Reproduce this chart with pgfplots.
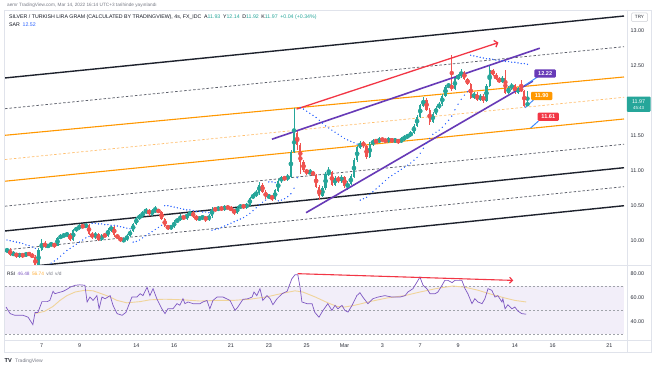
\documentclass[border=0pt]{standalone}
\usepackage{pgfplots}
\pgfplotsset{compat=1.18}
\usepackage{pgfplotstable}
\usepackage{fontspec}
\setmainfont{Liberation Sans}
\usetikzlibrary{arrows.meta}
\definecolor{upc}{HTML}{26A69A}
\definecolor{dnc}{HTML}{EF5350}
\definecolor{chblk}{HTML}{1E222D}
\definecolor{chgray}{HTML}{5D606B}
\definecolor{orng}{HTML}{FF9800}
\definecolor{orngl}{HTML}{FFC070}
\definecolor{purp}{HTML}{673AB7}
\definecolor{redd}{HTML}{F23645}
\definecolor{sarc}{HTML}{2962FF}
\definecolor{rsic}{HTML}{7E57C2}
\definecolor{rsima}{HTML}{F0D49A}
\definecolor{rsibg}{HTML}{F2EEF9}
\definecolor{frame}{HTML}{E0E3EB}
\definecolor{axtext}{HTML}{2A2E39}
\definecolor{tailc}{HTML}{3D8BFD}
\definecolor{hdr}{HTML}{131722}
\definecolor{gtext}{HTML}{787B86}

\pgfplotstableread{
b o h l c
-11 9.85 9.90 9.83 9.87
-10 9.87 9.89 9.78 9.80
-9 9.80 9.85 9.78 9.82
-8 9.82 9.83 9.76 9.78
-7 9.78 9.83 9.76 9.81
-6 9.81 9.82 9.76 9.78
-5 9.78 9.84 9.77 9.82
-4 9.82 9.84 9.78 9.80
-3 9.80 9.82 9.75 9.77
-2 9.77 9.79 9.62 9.64
-1 9.64 9.90 9.62 9.87
0 9.87 10.02 9.85 9.97
1 9.97 9.99 9.89 9.91
2 9.91 9.96 9.89 9.94
3 9.94 9.98 9.92 9.95
4 9.95 9.97 9.90 9.93
5 9.93 10.06 9.92 10.04
6 10.04 10.09 10.02 10.07
7 10.07 10.10 10.05 10.08
8 10.08 10.12 10.06 10.10
9 10.10 10.11 9.99 10.01
10 10.01 10.17 10.00 10.15
11 10.15 10.20 10.13 10.18
12 10.18 10.24 10.16 10.21
13 10.21 10.23 10.18 10.20
14 10.20 10.25 10.18 10.22
15 10.22 10.24 10.08 10.10
16 10.10 10.12 10.03 10.05
17 10.05 10.12 10.03 10.10
18 10.10 10.11 9.99 10.01
19 10.01 10.10 9.99 10.08
20 10.08 10.10 10.05 10.07
21 10.07 10.18 10.06 10.15
22 10.15 10.21 10.13 10.20
23 10.20 10.21 10.06 10.08
24 10.08 10.10 10.02 10.04
25 10.04 10.06 9.98 10.00
26 10.00 10.04 9.98 10.01
27 10.01 10.09 10.00 10.07
28 10.07 10.16 10.05 10.14
29 10.14 10.26 10.12 10.24
30 10.24 10.34 10.22 10.32
31 10.32 10.38 10.30 10.35
32 10.35 10.43 10.33 10.40
33 10.40 10.47 10.38 10.44
34 10.44 10.46 10.36 10.38
35 10.38 10.45 10.36 10.42
36 10.42 10.50 10.40 10.44
37 10.44 10.46 10.39 10.41
38 10.41 10.43 10.29 10.31
39 10.31 10.33 10.19 10.21
40 10.21 10.23 10.15 10.18
41 10.18 10.23 10.16 10.20
42 10.20 10.29 10.18 10.27
43 10.27 10.33 10.25 10.30
44 10.30 10.38 10.28 10.35
45 10.35 10.37 10.29 10.32
46 10.32 10.40 10.30 10.37
47 10.37 10.43 10.35 10.40
48 10.40 10.42 10.33 10.35
49 10.35 10.37 10.28 10.31
50 10.31 10.35 10.29 10.32
51 10.32 10.37 10.30 10.34
52 10.34 10.36 10.27 10.30
53 10.30 10.38 10.28 10.35
54 10.35 10.48 10.33 10.45
55 10.45 10.48 10.42 10.44
56 10.44 10.50 10.42 10.47
57 10.47 10.49 10.43 10.45
58 10.45 10.51 10.43 10.48
59 10.48 10.50 10.45 10.47
60 10.47 10.49 10.42 10.44
61 10.44 10.46 10.37 10.40
62 10.40 10.50 10.38 10.47
63 10.47 10.53 10.45 10.50
64 10.50 10.52 10.46 10.48
65 10.48 10.54 10.46 10.51
66 10.51 10.63 10.49 10.61
67 10.61 10.68 10.59 10.65
68 10.65 10.72 10.63 10.68
69 10.68 10.84 10.66 10.80
70 10.80 10.82 10.68 10.70
71 10.70 10.72 10.60 10.62
72 10.62 10.67 10.60 10.64
73 10.64 10.66 10.57 10.60
74 10.60 10.74 10.58 10.72
75 10.72 10.88 10.70 10.85
76 10.85 10.93 10.83 10.90
77 10.90 10.93 10.86 10.88
78 10.88 10.95 10.86 10.92
79 10.92 11.30 10.90 11.27
80 11.27 11.90 11.25 11.54
81 11.54 11.58 11.30 11.37
82 11.37 11.40 10.95 11.12
83 11.12 11.15 10.98 11.01
84 11.01 11.03 10.94 10.97
85 10.97 11.02 10.95 10.98
86 10.98 11.00 10.92 10.94
87 10.94 10.96 10.75 10.77
88 10.77 10.79 10.58 10.64
89 10.64 10.78 10.62 10.75
90 10.75 10.98 10.73 10.95
91 10.95 11.05 10.93 10.98
92 10.98 11.00 10.78 10.80
93 10.80 10.93 10.78 10.90
94 10.90 10.92 10.83 10.85
95 10.85 10.94 10.83 10.91
96 10.91 10.93 10.76 10.78
97 10.78 10.85 10.72 10.81
98 10.81 10.95 10.79 10.92
99 10.92 11.18 10.90 11.15
100 11.15 11.36 11.13 11.33
101 11.33 11.43 11.31 11.40
102 11.40 11.43 11.33 11.35
103 11.35 11.37 11.17 11.20
104 11.20 11.41 11.18 11.38
105 11.38 11.45 11.36 11.42
106 11.42 11.46 11.39 11.41
107 11.41 11.48 11.39 11.45
108 11.45 11.47 11.42 11.44
109 11.44 11.46 11.40 11.42
110 11.42 11.48 11.40 11.45
111 11.45 11.47 11.40 11.42
112 11.42 11.47 11.40 11.44
113 11.44 11.46 11.38 11.41
114 11.41 11.48 11.39 11.45
115 11.45 11.51 11.43 11.48
116 11.48 11.53 11.46 11.50
117 11.50 11.57 11.48 11.54
118 11.54 11.67 11.52 11.64
119 11.64 11.80 11.62 11.77
120 11.77 11.96 11.75 11.93
121 11.93 12.05 11.91 12.01
122 12.01 12.04 11.85 11.87
123 11.87 11.90 11.65 11.70
124 11.70 11.84 11.68 11.81
125 11.81 11.93 11.79 11.90
126 11.90 11.98 11.88 11.95
127 11.95 12.10 11.93 12.07
128 12.07 12.23 12.05 12.20
129 12.20 12.26 12.18 12.22
130 12.22 12.65 12.14 12.17
131 12.17 12.35 12.15 12.32
132 12.32 12.38 12.30 12.35
133 12.35 12.45 12.33 12.41
134 12.41 12.43 12.29 12.31
135 12.31 12.33 12.22 12.24
136 12.24 12.26 12.02 12.04
137 12.04 12.13 12.02 12.10
138 12.10 12.12 11.99 12.01
139 12.01 12.10 11.99 12.07
140 12.07 12.09 11.97 12.00
141 12.00 12.24 11.98 12.21
142 12.21 12.50 12.19 12.44
143 12.44 12.46 12.35 12.37
144 12.37 12.39 12.29 12.31
145 12.31 12.34 12.25 12.27
146 12.27 12.35 12.25 12.32
147 12.32 12.44 12.09 12.11
148 12.11 12.21 12.09 12.18
149 12.18 12.25 12.16 12.22
150 12.22 12.24 12.10 12.12
151 12.12 12.20 12.10 12.18
152 12.18 12.30 12.12 12.14
153 12.14 12.16 11.91 11.93
154 11.93 12.14 11.92 11.97
}\candles

\pgfplotstableread{
b s
-11 10.01
-10 10.00
-9 9.99
-8 9.98
-7 9.97
-6 9.96
-5 9.94
-4 9.93
-3 9.91
-2 9.89
-1 9.60
0 9.61
1 9.63
2 9.65
3 9.68
4 9.71
5 9.74
6 9.78
7 9.82
8 9.86
9 9.89
10 9.92
11 9.95
12 9.98
13 10.01
14 10.04
15 10.06
16 10.25
17 10.25
18 10.24
19 10.24
20 10.23
21 10.23
22 10.22
23 10.22
24 10.21
25 10.20
26 10.19
27 10.18
28 10.17
29 9.98
30 9.99
31 10.01
32 10.04
33 10.07
34 10.10
35 10.13
36 10.16
37 10.19
38 10.22
39 10.50
40 10.50
41 10.49
42 10.48
43 10.47
44 10.46
45 10.45
46 10.44
47 10.44
48 10.43
49 10.42
50 10.42
51 10.41
52 10.41
53 10.40
54 10.15
55 10.16
56 10.17
57 10.19
58 10.21
59 10.23
60 10.25
61 10.27
62 10.29
63 10.31
64 10.33
65 10.36
66 10.39
67 10.43
68 10.47
69 10.51
70 10.55
71 10.58
72 10.84
73 10.84
74 10.83
75 10.57
76 10.58
77 10.60
78 10.63
79 10.67
80 10.75
81 10.90
82 11.90
83 11.88
84 11.85
85 11.82
86 11.79
87 11.76
88 11.72
89 11.68
90 11.64
91 11.61
92 11.58
93 11.55
94 11.52
95 11.49
96 11.46
97 11.44
98 11.42
99 11.40
100 11.38
101 10.58
102 10.60
103 10.62
104 10.66
105 10.70
106 10.74
107 10.78
108 10.82
109 10.86
110 10.90
111 10.93
112 10.96
113 10.99
114 11.02
115 11.05
116 11.08
117 11.11
118 11.15
119 11.19
120 11.25
121 11.32
122 11.39
123 11.46
124 11.52
125 11.55
126 11.58
127 11.62
128 11.67
129 11.72
130 11.78
131 11.87
132 11.95
133 12.02
134 12.08
135 12.13
136 12.65
137 12.64
138 12.63
139 12.62
140 12.61
141 12.60
142 12.60
143 12.59
144 12.58
145 12.58
146 12.57
147 12.56
148 12.56
149 12.55
150 12.55
151 12.54
152 12.53
153 12.53
154 12.52
}\sar

\pgfplotstableread{
b r
-11.3 52.5
-10.0 47
-8.5 45.6
-5.9 45.6
-4.3 44
-2.8 37.8
-2.1 48
-1.2 48
0.1 57
1.7 57
2.6 58
3.6 65.6
4.2 63.6
5.2 64.4
6.8 65.6
8.0 67.2
9.0 69
10.6 70.6
12.1 71
13.7 70.6
14.4 56.7
15.3 60.8
16.3 58
17.5 62
18.2 51
19.1 60.8
20.1 59.4
21.7 62
22.6 54
23.9 47
25.5 45.6
26.7 48
28.6 60.8
30.2 60.8
31.2 63.6
32.1 62
33.4 69
34.3 62
35.3 67.8
36.5 59.4
38.1 51
39.1 47
40.0 51
41.6 51
42.9 55.3
43.8 54
44.8 59.4
45.4 55.3
46.4 56.7
48.0 55.3
50.2 55.3
51.1 56.7
52.4 58
53.3 51
54.3 58
55.6 60.8
57.5 60.8
59.7 58
61.3 49.7
62.2 52.5
63.8 58.9
65.4 59.4
66.7 60.8
67.3 65
68.2 62
69.2 67.8
70.1 58
71.4 62
72.4 59.4
73.3 54.4
74.6 59.4
76.2 63.6
77.8 65.6
79.3 76
80.3 79.4
81.2 79.4
81.9 69
82.5 56.7
84.1 55.3
85.7 55.3
86.6 48
87.9 44
89.2 49.7
90.7 55.3
92.0 49.7
93.0 53.9
93.9 51
95.2 53.9
96.1 49.7
97.1 48.3
98.4 53.9
99.9 62
100.9 64.4
101.8 60.8
103.4 55.3
105.0 59.4
106.6 60.8
108.8 62
111.0 60.8
113.6 60.8
115.2 62
116.1 65
117.7 67.8
119.3 74.7
119.9 77.5
120.9 70.6
122.1 67.8
123.1 63.6
124.7 63.6
125.6 65
126.9 70.6
127.8 74.7
128.8 74.7
130.1 72.8
131.0 74.7
132.0 74.7
133.2 74.7
134.2 67.8
135.1 63.6
136.4 55.3
137.3 59.4
138.3 56.7
139.6 55.3
140.5 59.4
141.5 67.8
142.7 66.4
143.7 60.8
144.6 62
145.9 56.7
146.2 59.4
146.9 51
147.8 54.4
149.1 51
150.0 52.5
151.0 49
152.2 47
153.6 46.5
}\rsi

\pgfplotstableread{
b m
-2.1 47
1.0 49
3.6 53
5.8 58
8.0 62
10.6 65
13.7 66.5
16.3 66
18.5 64
21.6 61
23.9 58
27.0 56
31.2 57
34.3 58.5
39.1 59
44.8 58.5
50.2 57.5
55.6 58
60.6 58
66.0 59
71.4 61
76.5 64
80.3 66
82.8 65
86.6 61
90.7 56
93.6 53
96.1 52.5
99.3 54
104.0 57
109.4 60
115.1 62
119.9 65
125.3 68
130.3 70
134.2 69
138.3 66.5
142.7 63
146.9 60
150.0 58
153.6 56.7
}\rsima

\begin{document}
\begin{tikzpicture}
\useasboundingbox (0,0) rectangle (654pt,366pt);
\fill[white] (0,0) rectangle (654pt,366pt);

% ---------------- main price pane ----------------
\begin{axis}[at={(5pt,101pt)}, anchor=south west, scale only axis,
  width=619pt, height=255pt,
  xmin=-11.63, xmax=184.6, ymin=9.653, ymax=13.296,
  axis line style={draw=none}, xtick=\empty,
  ytick={10,10.5,11,11.5,12.5,13}, yticklabel pos=right,
  major tick length=0pt,
  yticklabel style={font=\fontsize{5.4}{6}\selectfont, text=axtext, anchor=west,
    xshift=6.5pt, inner sep=0pt,
    /pgf/number format/fixed, /pgf/number format/fixed zerofill,
    /pgf/number format/precision=2, /pgf/number format/assume math mode=true},
  clip=true]
% channel lines
\addplot[chblk, line width=1.4pt] coordinates {(-11.63,12.325) (184.6,13.21)};
\addplot[chgray, line width=0.75pt, dash pattern=on 2.5pt off 2pt] coordinates {(-11.63,11.886) (184.6,12.772)};
\addplot[orng, line width=1.1pt] coordinates {(-11.63,11.506) (184.6,12.339)};
\addplot[orngl, line width=0.7pt, dash pattern=on 2.5pt off 2pt] coordinates {(-11.63,11.160) (184.6,12.049)};
\addplot[orng, line width=1.1pt] coordinates {(-11.63,10.850) (184.6,11.739)};
\addplot[chgray, line width=0.75pt, dash pattern=on 2.5pt off 2pt] coordinates {(-11.63,10.493) (184.6,11.378)};
\addplot[chblk, line width=1.4pt] coordinates {(-11.63,10.139) (184.6,11.043)};
\addplot[chgray, line width=0.75pt, dash pattern=on 2.5pt off 2pt] coordinates {(-11.63,9.868) (184.6,10.772)};
\addplot[chblk, line width=1.4pt] coordinates {(-11.63,9.596) (184.6,10.500)};
% candles: wicks
\addplot[only marks, mark=none, upc, restrict expr to domain={\thisrow{c}-\thisrow{o}}{0:10},
  error bars/.cd, y dir=both, y explicit, error mark=none,
  error bar style={line width=0.55pt, upc}]
  table[x=b, y expr=(\thisrow{h}+\thisrow{l})/2, y error expr=(\thisrow{h}-\thisrow{l})/2]{\candles};
\addplot[only marks, mark=none, dnc, restrict expr to domain={\thisrow{c}-\thisrow{o}}{-10:-0.0001},
  error bars/.cd, y dir=both, y explicit, error mark=none,
  error bar style={line width=0.55pt, dnc}]
  table[x=b, y expr=(\thisrow{h}+\thisrow{l})/2, y error expr=(\thisrow{h}-\thisrow{l})/2]{\candles};
% candles: bodies
\addplot[only marks, mark=none, upc, restrict expr to domain={\thisrow{c}-\thisrow{o}}{0:10},
  error bars/.cd, y dir=both, y explicit, error mark=none,
  error bar style={line width=2.2pt, upc}]
  table[x=b, y expr=(\thisrow{o}+\thisrow{c})/2, y error expr=abs(\thisrow{c}-\thisrow{o})/2+0.003]{\candles};
\addplot[only marks, mark=none, dnc, restrict expr to domain={\thisrow{c}-\thisrow{o}}{-10:-0.0001},
  error bars/.cd, y dir=both, y explicit, error mark=none,
  error bar style={line width=2.2pt, dnc}]
  table[x=b, y expr=(\thisrow{o}+\thisrow{c})/2, y error expr=abs(\thisrow{c}-\thisrow{o})/2]{\candles};
% parabolic SAR
\addplot[only marks, mark=*, mark size=0.42pt, sarc, mark options={draw=none, fill=sarc}] table[x=b, y=s]{\sar};
% wedge lines
\addplot[purp, line width=1.6pt] coordinates {(73,11.45) (157.9,12.75)};
\addplot[purp, line width=1.6pt] coordinates {(83.8,10.40) (155.7,12.28)};
% red arrow
\addplot[redd, line width=1.3pt, -{Straight Barb[length=3pt,width=7pt]}] coordinates {(80.8,11.88) (144.8,12.83)};
% price labels
\draw[tailc, line width=1pt] (axis cs:153.2,12.22) -- (axis cs:157.2,12.34);
\node[fill=purp, text=white, rounded corners=1.2pt, inner xsep=3.8pt, inner ysep=2.2pt,
  font=\bfseries\fontsize{5.6}{6}\selectfont] at (axis cs:159.6,12.389) {12.22};
\draw[tailc, line width=1pt] (axis cs:153.2,11.90) -- (axis cs:155.9,12.01);
\node[fill=orng, text=white, rounded corners=1.2pt, inner xsep=3.8pt, inner ysep=2.2pt,
  font=\bfseries\fontsize{5.6}{6}\selectfont] at (axis cs:158.5,12.068) {11.90};
\draw[tailc, line width=1pt] (axis cs:155.0,11.61) -- (axis cs:157.5,11.71);
\node[fill=redd, text=white, rounded corners=1.2pt, inner xsep=3.8pt, inner ysep=2.2pt,
  font=\bfseries\fontsize{5.6}{6}\selectfont] at (axis cs:160.6,11.77) {11.61};
\end{axis}

% ---------------- RSI pane ----------------
\begin{axis}[at={(5pt,26pt)}, anchor=south west, scale only axis,
  width=619pt, height=74pt,
  xmin=-11.63, xmax=184.6, ymin=25, ymax=86.7,
  axis line style={draw=none}, major tick length=0pt,
  xtick={0,12,30,42,60,72,84,96,108,120,132,150,162,180},
  xticklabels={7,9,14,16,21,23,25,Mar,3,7,9,14,16,21},
  xticklabel style={font=\fontsize{5.4}{6}\selectfont, text=axtext, anchor=north, yshift=-3.6pt, inner sep=0pt},
  ytick={40,60,80}, yticklabel pos=right,
  yticklabel style={font=\fontsize{5.4}{6}\selectfont, text=axtext, anchor=west,
    xshift=6.5pt, inner sep=0pt,
    /pgf/number format/fixed, /pgf/number format/fixed zerofill,
    /pgf/number format/precision=2, /pgf/number format/assume math mode=true},
  clip=true]
\fill[rsibg] (axis cs:-11.63,30) rectangle (axis cs:184.6,70);
\addplot[gtext!70, line width=0.5pt, dash pattern=on 2pt off 2pt] coordinates {(-11.63,70) (184.6,70)};
\addplot[gtext!70, line width=0.5pt, dash pattern=on 2pt off 2pt] coordinates {(-11.63,50) (184.6,50)};
\addplot[gtext!70, line width=0.5pt, dash pattern=on 2pt off 2pt] coordinates {(-11.63,30) (184.6,30)};
\addplot[rsima, line width=0.9pt] table[x=b, y=m]{\rsima};
\addplot[rsic, line width=0.7pt] table[x=b, y=r]{\rsi};
\addplot[redd, line width=1.1pt, -{Straight Barb[length=3pt,width=6pt]}] coordinates {(81.1,80.3) (149.5,74.7)};
\end{axis}

% ---------------- frame and texts (pixel coordinates, y down) ----------------
\begin{scope}[yshift=366pt, x=1pt, y=-1pt]
\draw[frame, line width=0.6pt] (4,10) rectangle (651,352.7);
\draw[frame, line width=0.6pt] (627,10) -- (627,352.7);
\draw[frame, line width=0.6pt] (4,265.6) -- (651,265.6);
\draw[frame, line width=0.6pt] (4,340.3) -- (651,340.3);
% header
\node[anchor=base west, inner sep=0pt, text=gtext, font=\fontsize{4.7}{5}\selectfont] at (7,6.6)
  {aemr TradingView.com, Mar 14, 2022 16:14 UTC+3 tarihinde yayınlandı};
\node[anchor=base west, inner sep=0pt, text=hdr, font=\fontsize{5.25}{6}\selectfont] at (9,18.3)
  {SILVER / TURKISH LIRA GRAM (CALCULATED BY TRADINGVIEW), 4s, FX\_IDC\enspace
   A\textcolor{upc}{11.93}\enspace Y\textcolor{upc}{12.14}\enspace D\textcolor{upc}{11.92}\enspace K\textcolor{upc}{11.97}\enspace \textcolor{upc}{+0.04 (+0.34\%)}};
\node[anchor=base west, inner sep=0pt, text=hdr, font=\fontsize{5.25}{6}\selectfont] at (9,26.6)
  {SAR\enspace\textcolor{sarc}{12.52}};
% RSI header
\node[anchor=base west, inner sep=0pt, text=hdr, font=\fontsize{4.8}{5}\selectfont] at (7,276)
  {RSI\enspace\textcolor{rsic}{46.48}\enspace\textcolor{orng!80}{56.74}\enspace\textcolor{gtext}{v/d\enspace v/d}};
% TRY box
\draw[frame!80!gray, line width=0.5pt, rounded corners=1pt, fill=white] (631.5,13) rectangle (647.5,21.5);
\node[text=axtext, inner sep=0pt, font=\fontsize{4.6}{5}\selectfont] at (639.5,17.4) {TRY};
% current price label
\fill[upc, rounded corners=0.8pt] (626.8,96.6) rectangle (650.5,111.8);
\node[text=white, inner sep=0pt, font=\fontsize{5.4}{6}\selectfont] at (638.6,101.2) {11.97};
\node[text=white, inner sep=0pt, font=\fontsize{4.4}{5}\selectfont] at (638.6,107.7) {45:43};
% TradingView logo
\node[anchor=base west, inner sep=0pt, text=hdr, font=\bfseries\fontsize{5.6}{6}\selectfont] at (4.5,362.5) {TV};
\node[anchor=base west, inner sep=0pt, text=gtext, font=\fontsize{5}{6}\selectfont] at (15,362.5) {TradingView};
\end{scope}
\end{tikzpicture}
\end{document}
